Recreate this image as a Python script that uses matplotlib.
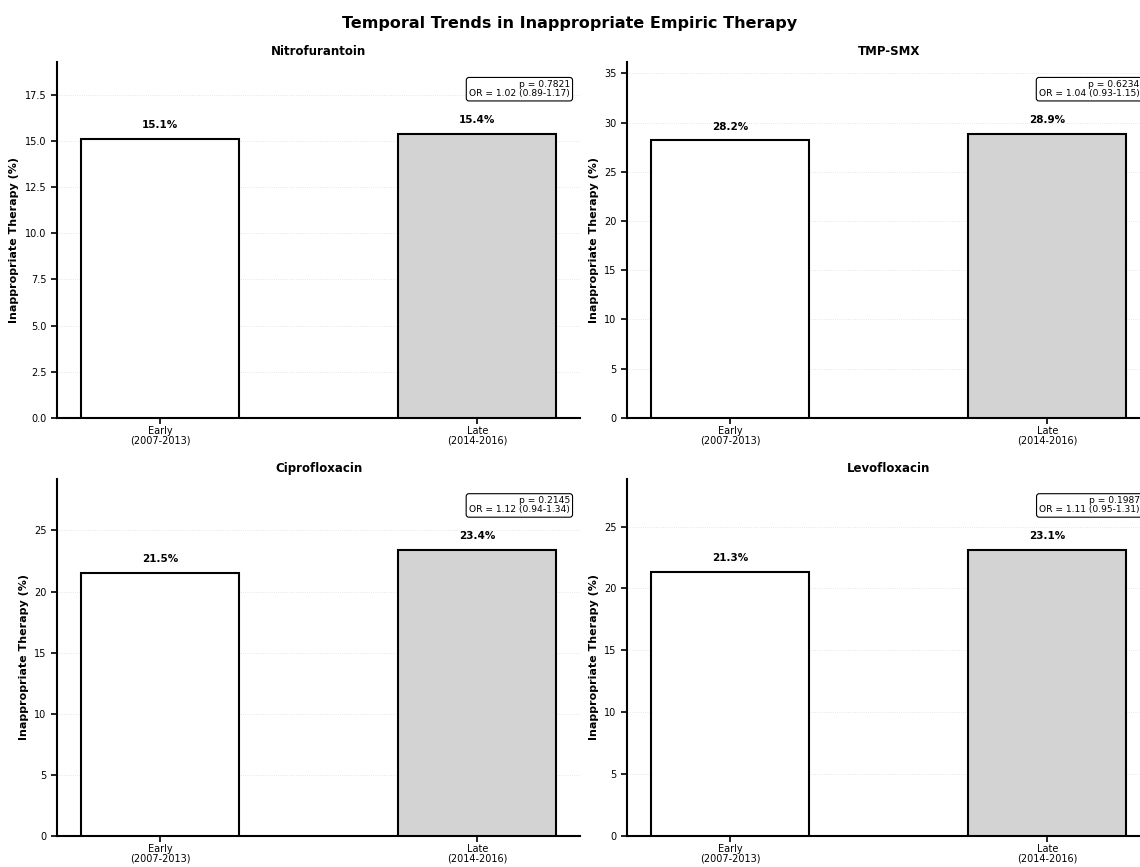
import matplotlib.pyplot as plt
import numpy as np

plt.rcParams['font.family'] = ['DejaVu Sans']

antibiotics = ['Nitrofurantoin', 'TMP-SMX', 'Ciprofloxacin', 'Levofloxacin']
early_pct = [15.1, 28.2, 21.5, 21.3]
late_pct = [15.4, 28.9, 23.4, 23.1]
p_values = ['0.7821', '0.6234', '0.2145', '0.1987']
odds_ratios = ['1.02 (0.89-1.17)', '1.04 (0.93-1.15)', '1.12 (0.94-1.34)', '1.11 (0.95-1.31)']
period_labels = ['Early\n(2007-2013)', 'Late\n(2014-2016)']

fig = plt.figure(figsize=(11.4, 8.67), dpi=100)
fig.suptitle('Temporal Trends in Inappropriate Empiric Therapy',
             fontsize=11.5, fontweight='bold', y=0.982)

# panel positions in figure fraction (left, bottom, width, height)
positions = [
    (0.050, 0.518, 0.459, 0.410),
    (0.550, 0.518, 0.459, 0.410),
    (0.050, 0.036, 0.459, 0.412),
    (0.550, 0.036, 0.459, 0.412),
]

for i, name in enumerate(antibiotics):
    ax = fig.add_axes(positions[i])
    vals = [early_pct[i], late_pct[i]]
    x = np.arange(2)
    ax.bar(x, vals, width=0.5, color=['white', 'lightgray'],
           edgecolor='black', linewidth=1.5, zorder=3)
    top = max(vals) * 1.25
    ax.set_ylim(0, top)
    for xi, v in zip(x, vals):
        ax.text(xi, v + top * 0.025, f'{v:.1f}%', ha='center', va='bottom',
                fontsize=7.5, fontweight='bold')
    ax.text(0.98, 0.95, f'p = {p_values[i]}\nOR = {odds_ratios[i]}',
            transform=ax.transAxes, ha='right', va='top', fontsize=6.6,
            linespacing=1.0,
            bbox=dict(boxstyle='round,pad=0.3', facecolor='white',
                      edgecolor='black', linewidth=0.8))
    ax.set_xticks(x)
    ax.set_xticklabels(period_labels, fontsize=7, linespacing=0.95)
    ax.tick_params(axis='y', labelsize=7, width=1.2, length=4)
    ax.tick_params(axis='x', width=1.2, length=4, pad=2)
    ax.set_ylabel('Inappropriate Therapy (%)', fontsize=8, fontweight='bold')
    ax.set_title(name, fontsize=8.5, fontweight='bold', pad=5)
    ax.grid(axis='y', linestyle=':', linewidth=0.6, alpha=0.4, zorder=0)
    ax.spines['top'].set_visible(False)
    ax.spines['right'].set_visible(False)
    ax.spines['left'].set_linewidth(1.5)
    ax.spines['bottom'].set_linewidth(1.5)

fig.savefig('out.png', dpi=100)
